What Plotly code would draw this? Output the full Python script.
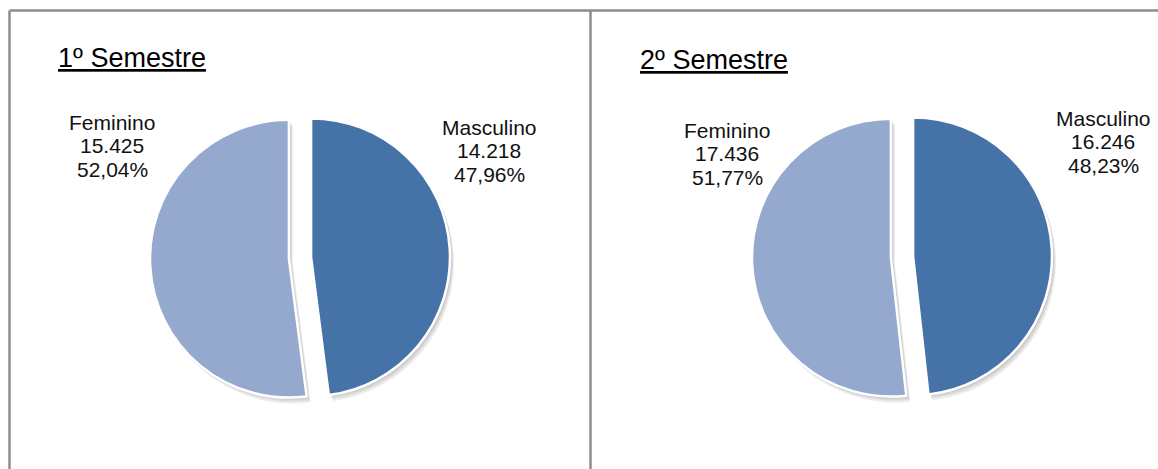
import plotly.graph_objects as go

W, H = 1158, 469

categories = ["Masculino", "Feminino"]
sem1_values = [14218, 15425]
sem2_values = [16246, 17436]
sem1_pct = ["47,96%", "52,04%"]
sem2_pct = ["48,23%", "51,77%"]
sem1_counts = ["14.218", "15.425"]
sem2_counts = ["16.246", "17.436"]
titles = ["1º Semestre", "2º Semestre"]

colors = ["#4572A7", "#95A9CF"]
FONT = "Liberation Sans, Arial, sans-serif"


def px_x(x):
    return x / W


def px_y(y):
    return 1 - y / H


def domain(cx, cy, half):
    return dict(x=[px_x(cx - half), px_x(cx + half)],
                y=[px_y(cy + half), px_y(cy - half)])


fig = go.Figure()

pies = [
    (sem1_values, 300, 258),
    (sem2_values, 902, 257),
]
PULL = 0.08
HALF = 150
# soft shadow layer underneath
for vals, cx, cy in pies:
    for dx, dy, a in [(4, 6, 0.07), (3, 4, 0.08), (2, 2, 0.08)]:
        fig.add_trace(go.Pie(
            labels=categories, values=vals, sort=False, direction="clockwise",
            rotation=0, pull=[PULL, PULL], textinfo="none", hoverinfo="skip",
            marker=dict(colors=[f"rgba(0,0,0,{a})"] * 2, line=dict(width=0)),
            domain=domain(cx + dx, cy + dy, HALF), showlegend=False,
        ))
for vals, cx, cy in pies:
    fig.add_trace(go.Pie(
        labels=categories, values=vals, sort=False, direction="clockwise",
        rotation=0, pull=[PULL, PULL], textinfo="none", hoverinfo="label+value+percent",
        marker=dict(colors=colors, line=dict(color="white", width=2.5)),
        domain=domain(cx, cy, HALF), showlegend=False,
    ))

annotations = []
# titles
for t, (x, y) in zip(titles, [(56, 58), (638, 60)]):
    annotations.append(dict(x=px_x(x), y=px_y(y), xref="paper", yref="paper",
                            text="<u>" + t + "</u>", showarrow=False,
                            xanchor="left", yanchor="middle",
                            font=dict(family=FONT, size=27, color="#000")))

# slice labels: (counts, pct, category index, center x, first line y)
label_specs = [
    (sem1_counts, sem1_pct, 1, 112, 122),
    (sem1_counts, sem1_pct, 0, 489, 127),
    (sem2_counts, sem2_pct, 1, 727, 130),
    (sem2_counts, sem2_pct, 0, 1103, 118),
]
for counts, pcts, i, cx, y0 in label_specs:
    lines = [categories[i], counts[i], pcts[i]]
    for k, ln in enumerate(lines):
        annotations.append(dict(x=px_x(cx), y=px_y(y0 + 23.8 * k), xref="paper", yref="paper",
                                text=ln, showarrow=False, xanchor="center", yanchor="middle",
                                font=dict(family=FONT, size=21, color="#111")))

shapes = [
    dict(type="line", xref="paper", yref="paper", x0=px_x(9.5), x1=1.0, y0=px_y(10.5), y1=px_y(10.5),
         line=dict(color="#8C8C8C", width=2.5)),
    dict(type="line", xref="paper", yref="paper", x0=px_x(9.5), x1=px_x(9.5), y0=0, y1=px_y(10.5),
         line=dict(color="#8C8C8C", width=2.5)),
    dict(type="line", xref="paper", yref="paper", x0=px_x(590.5), x1=px_x(590.5), y0=0, y1=px_y(10.5),
         line=dict(color="#8C8C8C", width=2.5)),
]

fig.update_layout(
    width=W, height=H, margin=dict(l=0, r=0, t=0, b=0),
    paper_bgcolor="white", plot_bgcolor="white",
    annotations=annotations, shapes=shapes,
)

fig.write_html("out.html", config={"displayModeBar": False},
               post_script="document.body.style.margin='0';document.body.style.overflow='hidden';")
